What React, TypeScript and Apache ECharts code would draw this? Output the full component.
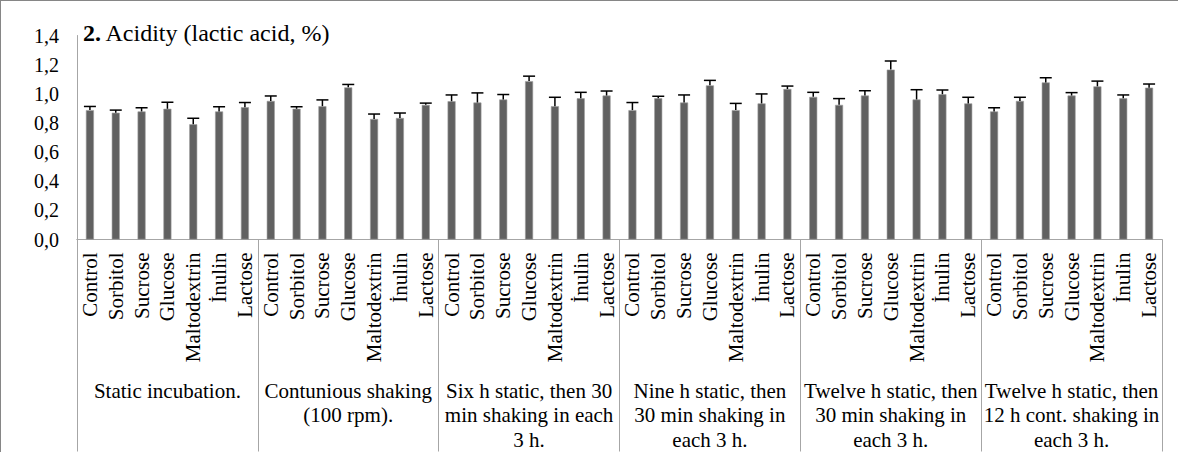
import React, { useEffect, useRef } from "react";
import * as echarts from "echarts";

const substrates = ["Control", "Sorbitol", "Sucrose", "Glucose", "Maltodextrin", "İnulin", "Lactose"];
const groups = [
  "Static incubation.",
  "Contunious shaking\n(100 rpm).",
  "Six h static, then 30\nmin shaking in each\n3 h.",
  "Nine h static, then\n30 min shaking in\neach 3 h.",
  "Twelve h static, then\n30 min shaking in\neach 3 h.",
  "Twelve h static, then\n12 h cont. shaking in\neach 3 h.",
];

const staticInc = [0.888, 0.870, 0.879, 0.897, 0.791, 0.879, 0.908];
const staticIncErr = [0.025, 0.018, 0.025, 0.045, 0.041, 0.032, 0.032];
const contShake = [0.951, 0.897, 0.915, 1.044, 0.827, 0.834, 0.924];
const contShakeErr = [0.034, 0.014, 0.043, 0.020, 0.034, 0.034, 0.012];
const six = [0.949, 0.940, 0.961, 1.087, 0.915, 0.969, 0.988];
const sixErr = [0.043, 0.066, 0.034, 0.034, 0.061, 0.041, 0.031];
const nine = [0.888, 0.969, 0.940, 1.058, 0.888, 0.934, 1.033];
const nineErr = [0.052, 0.014, 0.052, 0.034, 0.046, 0.065, 0.020];
const twelve = [0.979, 0.924, 0.988, 1.166, 0.961, 0.997, 0.934];
const twelveErr = [0.031, 0.043, 0.033, 0.059, 0.067, 0.029, 0.042];
const twelveCont = [0.879, 0.951, 1.078, 0.988, 1.051, 0.969, 1.042];
const twelveContErr = [0.025, 0.025, 0.032, 0.020, 0.036, 0.023, 0.025];

const yTicks = { min: 0, max: 1.4, interval: 0.2 };

export default function App() {
  const ref = useRef<HTMLDivElement>(null);
  useEffect(() => {
    if (!ref.current) return;
    const chart = echarts.init(ref.current, undefined, { renderer: "svg" });
    const values = [staticInc, contShake, six, nine, twelve, twelveCont].flat();
    const errs = [staticIncErr, contShakeErr, sixErr, nineErr, twelveErr, twelveContErr].flat();
    const cats: string[] = [];
    groups.forEach(() => substrates.forEach((s) => cats.push(s)));
    const font = "Liberation Serif, Times New Roman, serif";
    const axisGray = "#a6a6a6";
    chart.setOption({
      animation: false,
      textStyle: { fontFamily: font },
      title: {
        left: 83,
        top: 21,
        padding: 0,
        text: "{b|2.} {n|Acidity (lactic acid, %)}",
        textStyle: {
          fontFamily: font,
          fontWeight: "normal",
          rich: {
            b: { fontFamily: font, fontSize: 24, fontWeight: "bold", color: "#000" },
            n: { fontFamily: font, fontSize: 24, fontWeight: "normal", color: "#000" },
          },
        },
      },
      grid: { left: 77, right: 16, top: 35.5, bottom: 210, containLabel: false },
      xAxis: [
        {
          type: "category",
          data: cats,
          position: "bottom",
          axisLine: { show: true, lineStyle: { color: axisGray, width: 1 } },
          axisTick: { show: false },
          axisLabel: {
            interval: 0,
            rotate: 90,
            margin: 13,
            fontFamily: font,
            fontSize: 21,
            color: "#000",
          },
        },
        {
          type: "category",
          data: groups,
          position: "bottom",
          axisLine: { show: true, lineStyle: { color: axisGray, width: 1 } },
          axisTick: { show: true, length: 212, lineStyle: { color: axisGray, width: 1 } },
          axisLabel: {
            interval: 0,
            margin: 139,
            fontFamily: font,
            fontSize: 21,
            lineHeight: 24.5,
            color: "#000",
            align: "center",
          },
        },
      ],
      yAxis: {
        type: "value",
        min: yTicks.min,
        max: yTicks.max,
        interval: yTicks.interval,
        axisLine: { show: true, lineStyle: { color: axisGray, width: 1 } },
        axisTick: { show: false },
        splitLine: { show: false },
        axisLabel: {
          margin: 18,
          fontFamily: font,
          fontSize: 20,
          color: "#000",
          formatter: (v: number) => v.toFixed(1).replace(".", ","),
        },
      },
      series: [
        {
          type: "bar",
          xAxisIndex: 0,
          data: values,
          barWidth: 8,
          itemStyle: { color: "#616161", borderColor: "#9c9c9c", borderWidth: 0.6 },
        },
        {
          type: "custom",
          xAxisIndex: 0,
          data: values.map((v, i) => [i, v, errs[i]]),
          renderItem: (params: any, api: any) => {
            const x = api.value(0);
            const v = api.value(1);
            const e = api.value(2);
            const p0 = api.coord([x, v]);
            const p1 = api.coord([x, v + e]);
            const style = { stroke: "#000", lineWidth: 1.5 };
            return {
              type: "group",
              children: [
                { type: "line", shape: { x1: p0[0], y1: p0[1], x2: p1[0], y2: p1[1] }, style },
                { type: "line", shape: { x1: p1[0] - 6, y1: p1[1], x2: p1[0] + 6, y2: p1[1] }, style },
              ],
            };
          },
          z: 3,
        },
      ],
      graphic: [
        { type: "line", shape: { x1: 0, y1: 0.5, x2: 1178, y2: 0.5 }, style: { stroke: "#868686", lineWidth: 1 } },
        { type: "line", shape: { x1: 0.5, y1: 0, x2: 0.5, y2: 452 }, style: { stroke: "#868686", lineWidth: 1 } },
      ],
    });
    return () => chart.dispose();
  }, []);
  return (
    <div
      ref={ref}
      style={{ position: "absolute", left: 0, top: 0, width: 1178, height: 452, background: "#fff" }}
    />
  );
}
